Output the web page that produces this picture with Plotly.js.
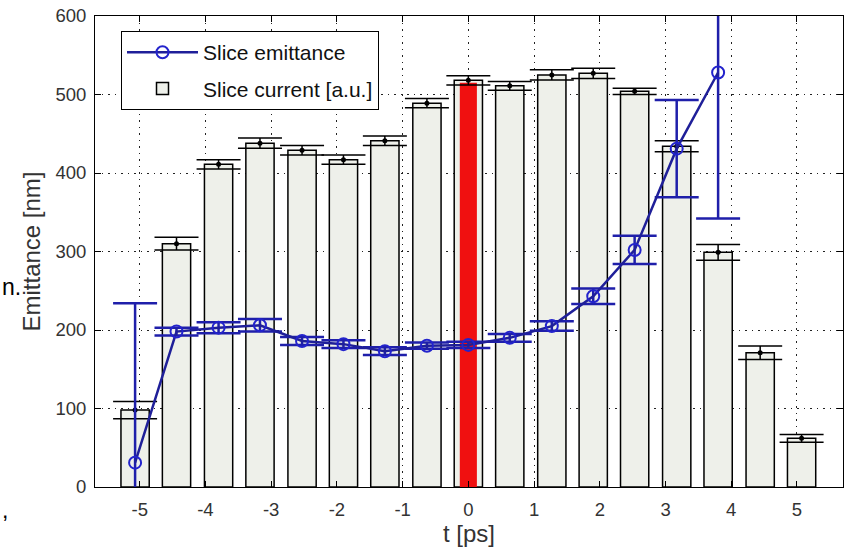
<!DOCTYPE html>
<html><head><meta charset="utf-8">
<script src="https://cdn.plot.ly/plotly-3.0.1.min.js"></script>
<style>html,body{margin:0;padding:0;background:#fff}#chart{width:850px;height:549px}</style>
</head><body><div id="chart"></div>
<script>
// Slice positions (ps)
const sliceTime = [-5.07,-4.44,-3.80,-3.17,-2.53,-1.90,-1.27,-0.63,0,0.63,1.27,1.90,2.53,3.17,3.80,4.44,5.07];
// Slice current (a.u., plotted on emittance scale) and its error
const sliceCurrent = [98,310,411,438,429,417,441,489,518,511,525,527,504,434,299,171,62];
const currentErr = [11,8,6,6.5,6,6,6,6,6,5.5,6.5,6.5,4,7,10,8.5,5];
// Slice emittance (nm) and its error
const emitTime = [-5.07,-4.44,-3.80,-3.17,-2.53,-1.90,-1.27,-0.63,0,0.63,1.27,1.90,2.53,3.17,3.80];
const emittance = [31,198,203,206,186,182,173,180,181,190,205,243,302,431,528];
const emitErr = [203,5,7,8,5,5,5,4,4,5,6,10,18,62,186];
// Highlighted (central) slice
const highlightTime = [0];
const highlightCurrent = [515];
// Axis ticks
const xTickVals = [-5,-4,-3,-2,-1,0,1,2,3,4,5];
const xTickText = ['-5','-4','-3','-2','-1','0','1','2','3','4','5'];
const yTickVals = [0,100,200,300,400,500,600];
const yTickText = ['0','100','200','300','400','500','600'];

const FONT = 'Arial, "Liberation Sans", Helvetica, sans-serif';

const traces = [
  {type:'bar', x:sliceTime, y:sliceCurrent, name:'Slice current [a.u.]', width:0.43,
   marker:{color:'#eef0ea', line:{color:'#000', width:1.5}}, legendrank:2, legendgroup:'b', hoverinfo:'skip'},
  {type:'bar', x:highlightTime, y:highlightCurrent, width:0.26, showlegend:false,
   marker:{color:'#f01010', line:{width:0}}, hoverinfo:'skip'},
  {type:'scatter', mode:'markers', x:sliceTime, y:sliceCurrent, showlegend:false,
   marker:{color:'#000', size:5},
   error_y:{type:'data', array:currentErr, visible:true, color:'#000', thickness:1.5, width:22}},
  {type:'scatter', mode:'lines+markers', x:emitTime, y:emittance, name:'Slice emittance',
   legendrank:1, legendgroup:'a',
   line:{color:'#1f1f99', width:2.5},
   marker:{symbol:'circle-open', size:12, color:'#2323cc', line:{width:2, color:'#2323cc'}},
   error_y:{type:'data', array:emitErr, visible:true, color:'#1f1faa', thickness:2.5, width:22}}
];

const axisCommon = {
  showline:true, linecolor:'#000', linewidth:1, mirror:'ticks',
  ticks:'inside', ticklen:6, tickcolor:'#000', tickwidth:1,
  showgrid:true, gridcolor:'#222', gridwidth:1, griddash:'1.5px,5px',
  zeroline:false, tickfont:{family:FONT, size:18.5, color:'#333'}
};

const layout = {
  width:850, height:549,
  margin:{l:95, r:7, t:16, b:62},
  paper_bgcolor:'#fff', plot_bgcolor:'#fff',
  barmode:'overlay', showlegend:true,
  font:{family:FONT, color:'#222'},
  xaxis:Object.assign({}, axisCommon, {
    range:[-5.68,5.70], tickmode:'array', tickvals:xTickVals, ticktext:xTickText,
    ticklabelstandoff:6,
    title:{text:'t [ps]', font:{family:FONT, size:24, color:'#333'}, standoff:4}
  }),
  yaxis:Object.assign({}, axisCommon, {
    range:[0,600], tickmode:'array', tickvals:yTickVals, ticktext:yTickText,
    ticklabelstandoff:4,
    title:{text:'Emittance [nm]', font:{family:FONT, size:24, color:'#333'}, standoff:8}
  }),
  legend:{x:(121-95)/748, y:0.968, xanchor:'left', yanchor:'top',
    bgcolor:'#fff', bordercolor:'#000', borderwidth:1,
    font:{family:FONT, size:21, color:'#111'},
    itemwidth:71, traceorder:'grouped', tracegroupgap:6},
  annotations:[
    {text:'n.', xref:'paper', yref:'paper', x:(0-95)/748, y:(487-287)/471, xanchor:'left', yanchor:'middle',
     showarrow:false, font:{family:FONT, size:23, color:'#000'}},
    {text:',', xref:'paper', yref:'paper', x:(0-95)/748, y:(487-510)/471, xanchor:'left', yanchor:'middle',
     showarrow:false, font:{family:FONT, size:23, color:'#000'}}
  ]
};

Plotly.newPlot('chart', traces, layout, {displayModeBar:false, staticPlot:true});
</script>
</body></html>
